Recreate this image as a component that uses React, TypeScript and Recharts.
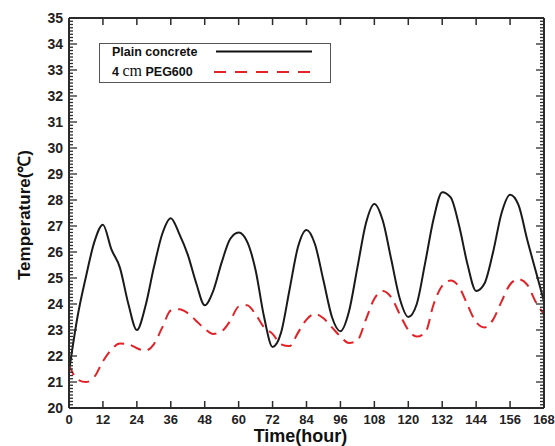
import React from "react";
import { LineChart, Line, XAxis, YAxis, Label } from "recharts";

// sample times (hours), every 3 h
const hours = [
  0, 3, 6, 9, 12, 15, 18, 21, 24, 27, 30, 33, 36, 39, 42, 45, 48, 51, 54, 57,
  60, 63, 66, 69, 72, 75, 78, 81, 84, 87, 90, 93, 96, 99, 102, 105, 108, 111,
  114, 117, 120, 123, 126, 129, 132, 135, 138, 141, 144, 147, 150, 153, 156,
  159, 162, 165, 168,
];

const plainConcrete = [
  21.4, 23.5, 25.05, 26.4, 27.05, 26.1, 25.4, 24.0, 23.0, 23.9, 25.4, 26.7,
  27.3, 26.7, 25.9, 24.8, 23.95, 24.5, 25.6, 26.5, 26.75, 26.4, 25.3, 23.5,
  22.35, 22.9, 24.55, 26.2, 26.85, 26.3, 24.9, 23.5, 22.95, 23.7, 25.4, 27.1,
  27.85, 27.2, 25.7, 24.2, 23.5, 24.0, 25.6, 27.3, 28.3, 28.1, 27.0, 25.5,
  24.5, 24.8, 26.0, 27.5, 28.2, 27.8, 26.5, 25.3, 24.1,
];

const peg600 = [
  21.65, 21.1, 21.0, 21.2, 21.8, 22.25, 22.48, 22.45, 22.3, 22.2, 22.45, 23.1,
  23.75, 23.8, 23.65, 23.35, 23.05, 22.85, 22.95, 23.35, 23.9, 23.95, 23.6,
  23.1, 22.85, 22.45, 22.38, 22.9, 23.4, 23.62, 23.45, 23.1, 22.75, 22.5, 22.6,
  23.4, 24.2, 24.5, 24.25, 23.6, 23.0, 22.75, 22.9, 24.0, 24.7, 24.9, 24.65,
  23.95, 23.3, 23.1, 23.4, 24.1, 24.75, 24.95, 24.75, 24.1, 23.6,
];

const xTicks = [0, 12, 24, 36, 48, 60, 72, 84, 96, 108, 120, 132, 144, 156, 168];
const yMinorPerUnit = 8;

const data = hours.map((h, i) => ({ h, plain: plainConcrete[i], peg: peg600[i] }));

const yTicks: number[] = [];
for (let v = 20; v < 35; v++) {
  for (let k = 0; k < yMinorPerUnit; k++) yTicks.push(v + k / yMinorPerUnit);
}
yTicks.push(35);

const FONT = "'Liberation Sans', Arial, sans-serif";
const AXIS = "#2b2b2b";

const isMajor = (v: number) => Math.abs(v - Math.round(v)) < 1e-6;

function LeftTick(props: any) {
  const { x, y, payload } = props;
  const major = isMajor(payload.value);
  return (
    <g>
      <line x1={x} x2={x + (major ? 8 : 4)} y1={y} y2={y} stroke={AXIS} strokeWidth={1.3} />
      {major && (
        <text x={x - 6} y={y} dy={5} textAnchor="end" fontFamily={FONT} fontWeight="bold" fontSize={14} fill="#222">
          {payload.value}
        </text>
      )}
    </g>
  );
}

function RightTick(props: any) {
  const { x, y, payload } = props;
  const major = isMajor(payload.value);
  return <line x1={x} x2={x - (major ? 8 : 4)} y1={y} y2={y} stroke={AXIS} strokeWidth={1.3} />;
}

function BottomTick(props: any) {
  const { x, y, payload } = props;
  return (
    <g>
      <line x1={x} x2={x} y1={y} y2={y - 7} stroke={AXIS} strokeWidth={1.5} />
      <text x={x} y={y + 16} textAnchor="middle" fontFamily={FONT} fontWeight="bold" fontSize={13} fill="#222">
        {payload.value}
      </text>
    </g>
  );
}

function TopTick(props: any) {
  const { x, y } = props;
  return <line x1={x} x2={x} y1={y} y2={y + 7} stroke={AXIS} strokeWidth={1.5} />;
}

function ChartLegend() {
  return (
    <div
      style={{
        position: "absolute",
        left: 99,
        top: 43,
        width: 230,
        height: 38,
        border: "1.5px solid #555",
        background: "#fff",
      }}
    >
      <svg width={230} height={38} style={{ position: "absolute", left: 0, top: 0 }}>
        <text x={12} y={12} fontFamily={FONT} fontWeight="bold" fontSize={12.5} fill="#111">
          Plain concrete
        </text>
        <line x1={116} x2={212} y1={7.5} y2={7.5} stroke="#111" strokeWidth={2} />
        <text x={12} y={32} fontFamily={FONT} fontWeight="bold" fontSize={12.5} fill="#111">
          4{" "}
          <tspan fontFamily="'Liberation Serif', serif" fontWeight="normal" fontSize={16}>
            cm
          </tspan>{" "}
          PEG600
        </text>
        <line x1={114} x2={213} y1={28} y2={28} stroke="#e32228" strokeWidth={2} strokeDasharray="12 9" />
      </svg>
    </div>
  );
}

export default function App() {
  return (
    <div style={{ position: "absolute", left: 0, top: 0, width: 555, height: 446, background: "#fff" }}>
      <LineChart width={555} height={446} data={data} margin={{ top: 0, right: 0, bottom: 0, left: 0 }}>
        <XAxis
          xAxisId="b"
          dataKey="h"
          type="number"
          domain={[0, 168]}
          ticks={xTicks}
          interval={0}
          height={38}
          tickSize={0}
          tickMargin={0}
          tickLine={false}
          tick={<BottomTick />}
          axisLine={{ stroke: AXIS, strokeWidth: 2 }}
        >
          <Label
            content={(p: any) => {
              const vb = p.viewBox;
              return (
                <text x={vb.x + vb.width / 2 - 6} y={vb.y + vb.height - 4} textAnchor="middle" fontFamily={FONT} fontWeight="bold" fontSize={18} fill="#111">
                  Time(hour)
                </text>
              );
            }}
          />
        </XAxis>
        <XAxis
          xAxisId="t"
          orientation="top"
          dataKey="h"
          type="number"
          domain={[0, 168]}
          ticks={xTicks}
          interval={0}
          height={18}
          tickSize={0}
          tickMargin={0}
          tickLine={false}
          tick={<TopTick />}
          axisLine={{ stroke: AXIS, strokeWidth: 2 }}
        />
        <YAxis
          yAxisId="l"
          type="number"
          domain={[20, 35]}
          ticks={yTicks}
          interval={0}
          width={69}
          tickSize={0}
          tickMargin={0}
          tickLine={false}
          tick={<LeftTick />}
          axisLine={{ stroke: AXIS, strokeWidth: 2 }}
        >
          <Label
            content={(p: any) => {
              const vb = p.viewBox;
              const cx = 26;
              const cy = vb.y + vb.height / 2 + 2;
              return (
                <text x={cx} y={cy} transform={`rotate(-90 ${cx} ${cy})`} textAnchor="middle" dominantBaseline="middle" fontFamily={FONT} fontWeight="bold" fontSize={17} fill="#111">
                  Temperature(℃)
                </text>
              );
            }}
          />
        </YAxis>
        <YAxis
          yAxisId="r"
          orientation="right"
          type="number"
          domain={[20, 35]}
          ticks={yTicks}
          interval={0}
          width={11}
          tickSize={0}
          tickMargin={0}
          tickLine={false}
          tick={<RightTick />}
          axisLine={{ stroke: AXIS, strokeWidth: 2 }}
        />
        <Line
          xAxisId="b"
          yAxisId="l"
          type="monotone"
          dataKey="plain"
          stroke="#1a1a1a"
          strokeWidth={2}
          dot={false}
          isAnimationActive={false}
        />
        <Line
          xAxisId="t"
          yAxisId="r"
          type="monotone"
          dataKey="peg"
          stroke="#e32228"
          strokeWidth={2}
          strokeDasharray="11 7"
          dot={false}
          isAnimationActive={false}
        />
      </LineChart>
      <ChartLegend />
    </div>
  );
}
